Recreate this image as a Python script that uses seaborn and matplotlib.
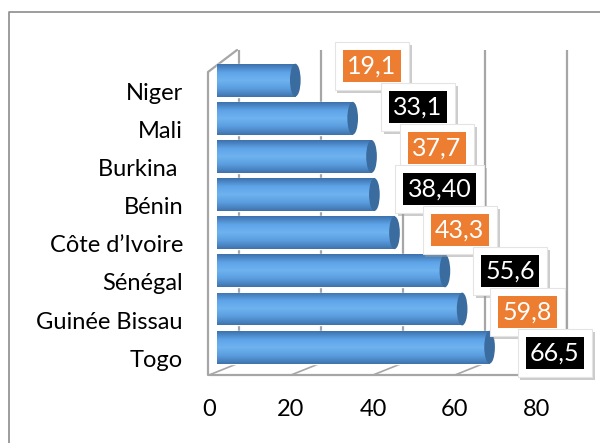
import numpy as np
import pandas as pd
import matplotlib
matplotlib.use("Agg")
import matplotlib.pyplot as plt
import matplotlib.patheffects as pe
from matplotlib.transforms import ScaledTranslation
from matplotlib.patches import Ellipse
from matplotlib.lines import Line2D
import seaborn as sns

# données
pays = ["Niger", "Mali", "Burkina ", "Bénin", "Côte d\u2019Ivoire", "Sénégal", "Guinée Bissau", "Togo"]
valeurs = [19.1, 33.1, 37.7, 38.4, 43.3, 55.6, 59.8, 66.5]
etiquettes = ["19,1", "33,1", "37,7", "38,40", "43,3", "55,6", "59,8", "66,5"]
couleurs_etiq = ["#ED7D31", "#000000"] * 4
graduations = [0, 20, 40, 60, 80]

df = pd.DataFrame({"pays": pays, "valeur": valeurs})

sns.set_theme(style="white")
plt.rcParams["font.family"] = ["Lato", "DejaVu Sans"]

W, H = 600, 443
fig = plt.figure(figsize=(6, 4.43), dpi=100)
# zone de tracé : 208..590 px en largeur, 50..375 px en hauteur
ax = fig.add_axes([208 / W, 1 - 375 / H, (590 - 208) / W, (375 - 50) / H])

sns.barplot(data=df, x="valeur", y="pays", orient="h", ax=ax,
            color="#5B9BD5", width=0.86, saturation=1, zorder=3)

# dégradé cylindrique sur les barres
grad = np.linspace(0, 1, 64).reshape(-1, 1)
cmap = matplotlib.colors.LinearSegmentedColormap.from_list(
    "cyl", ["#3C72AD", "#5FA4E8", "#6EB2F0", "#5A9DDF", "#3E73AC"])
for p in ax.patches:
    x0, y0 = p.get_x(), p.get_y()
    w, h = p.get_width(), p.get_height()
    im = ax.imshow(grad, cmap=cmap, aspect="auto", extent=[x0, x0 + w, y0 + h, y0],
                   zorder=3.1, interpolation="bilinear")
    im.set_clip_path(p)
    cap = Ellipse((x0 + w, y0 + h / 2), width=2.6, height=h,
                  facecolor="#3A6C9F", edgecolor="none", zorder=3.2)
    ax.add_patch(cap)
ax.set_xlim(-2.2, 91)
ax.set_ylim(7.73, -0.79)

for s in ax.spines.values():
    s.set_visible(False)
ax.grid(False)

# grille du fond (décalée en profondeur)
dpi = fig.dpi
back = ScaledTranslation(22 / dpi, 0, fig.dpi_scale_trans)
front = ScaledTranslation(-8 / dpi, 0, fig.dpi_scale_trans)
gris = "#A6A6A6"
xt = ax.get_xaxis_transform()
for t in graduations:
    ax.plot([t, t], [12 / 325, 1], color=gris, lw=1.6, transform=xt + back, zorder=1)
    ax.plot([t, t + 30 / 4.1], [0, 12 / 325], color=gris, lw=1.2, transform=xt + front, zorder=1)
# sol et mur gauche
ax.plot([0, 80], [0, 0], color=gris, lw=1.6, transform=xt + front, zorder=1, clip_on=False)
ax.add_line(Line2D([0, 0, 29 / 382], [0, 303 / 325, 1], transform=ax.transAxes,
                   color=gris, lw=1.6, zorder=1, clip_on=False))

# graduations
ax.set_xticks(graduations)
ax.set_xticklabels([str(g) for g in graduations], fontsize=17, color="black")
ax.tick_params(axis="x", length=0, pad=17)
for lab in ax.get_xticklabels():
    lab.set_transform(lab.get_transform() + front)
ax.set_yticks(range(len(pays)))
ax.set_yticklabels(pays, fontsize=17, color="black")
ax.tick_params(axis="y", length=0, pad=18)
down = ScaledTranslation(0, -11 / dpi, fig.dpi_scale_trans)
for lab in ax.get_yticklabels():
    lab.set_transform(lab.get_transform() + down)
ax.set_xlabel("")
ax.set_ylabel("")

# étiquettes de données
for i, (v, txt, c) in enumerate(zip(valeurs, etiquettes, couleurs_etiq)):
    dy = (14 - 2.9 * i) * 0.72
    dx = 47 if i else 55
    shadow = ax.annotate(txt, (v, i), xytext=(dx, dy), textcoords="offset points",
                         ha="center", va="center", fontsize=18, color="none", zorder=5,
                         bbox=dict(boxstyle="square,pad=0.5", fc="white", ec="#E4E4E4", lw=0.8))
    shadow.get_bbox_patch().set_path_effects(
        [pe.SimplePatchShadow(offset=(2, -2), shadow_rgbFace="#9A9A9A", alpha=0.5), pe.Normal()])
    ax.annotate(txt, (v, i), xytext=(dx, dy), textcoords="offset points",
                ha="center", va="center", fontsize=18, color="white", zorder=6,
                bbox=dict(boxstyle="square,pad=0.18", fc=c, ec="none"))

# cadre du graphique
fig.add_artist(Line2D([9 / W, 9 / W, 1], [0, 1 - 12 / H, 1 - 12 / H],
                      transform=fig.transFigure, color="#8C8C8C", lw=1.2))

fig.savefig("out.png", dpi=100)
plt.close(fig)
